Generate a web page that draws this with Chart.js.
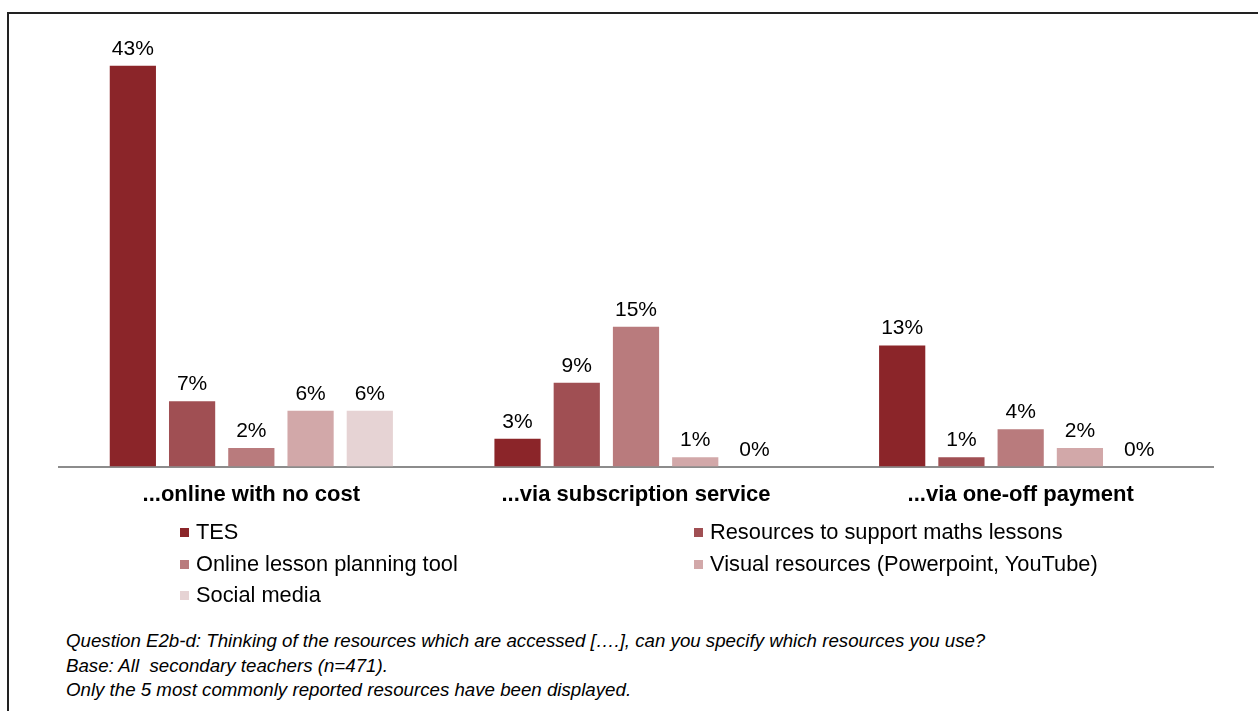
<!DOCTYPE html>
<html>
<head>
<meta charset="utf-8">
<script src="https://cdn.jsdelivr.net/npm/chart.js@4"></script>
<style>
  body { margin: 0; background: #fff; font-family: "Liberation Sans", Arial, sans-serif; }
  #frame { position: absolute; left: 7px; top: 12px; width: 1260px; height: 720px;
           border-left: 2px solid #222; border-top: 2px solid #222; }
  #chartBox { position: absolute; left: 0; top: 0; width: 1258px; height: 535px; }
  #legend { position: absolute; left: 0; top: 0; }
  .legend-item { position: absolute; font-size: 21.8px; color: #000; white-space: nowrap; line-height: 24px; }
  .legend-item span.box { display: inline-block; width: 9px; height: 9px; margin-right: 7px; vertical-align: 2px; }
  #notes { position: absolute; left: 66px; top: 629px; font-style: italic; font-size: 18.7px; line-height: 24.5px; color: #000; }
</style>
</head>
<body>
<div id="frame"></div>
<div id="chartBox"><canvas id="resourceChart" width="1258" height="535"></canvas></div>
<div id="legend"></div>
<div id="notes">
  Question E2b-d: Thinking of the resources which are accessed [….], can you specify which resources you use?<br>
  Base: All&nbsp; secondary teachers (n=471).<br>
  Only the 5 most commonly reported resources have been displayed.
</div>

<script>
// Access routes (x categories)
const categories = ['...online with no cost', '...via subscription service', '...via one-off payment'];

// Resource types, percentage of teachers per access route
const seriesNames = [
  'TES',
  'Resources to support maths lessons',
  'Online lesson planning tool',
  'Visual resources (Powerpoint, YouTube)',
  'Social media'
];
const tesValues = [43, 3, 13];
const mathsValues = [7, 9, 1];
const planningValues = [2, 15, 4];
const visualValues = [6, 1, 2];
const socialValues = [6, 0, 0];

const seriesColors = ['#8b2529', '#a04f53', '#b97b7d', '#d2a8a9', '#e6d3d4'];
const seriesValues = [tesValues, mathsValues, planningValues, visualValues, socialValues];

// Draw the percentage above each bar
const valueLabels = {
  id: 'valueLabels',
  afterDatasetsDraw(chart) {
    const ctx = chart.ctx;
    ctx.save();
    ctx.font = '21px "Liberation Sans", Arial, sans-serif';
    ctx.fillStyle = '#000';
    ctx.textAlign = 'center';
    ctx.textBaseline = 'alphabetic';
    chart.data.datasets.forEach((ds, i) => {
      chart.getDatasetMeta(i).data.forEach((bar, j) => {
        ctx.fillText(ds.data[j] + '%', bar.x, bar.y - 11);
      });
    });
    ctx.restore();
  }
};

const chart = new Chart(document.getElementById('resourceChart'), {
  type: 'bar',
  data: {
    labels: categories,
    datasets: seriesNames.map((name, i) => ({
      label: name,
      data: seriesValues[i],
      backgroundColor: seriesColors[i],
      borderWidth: 0,
      categoryPercentage: 0.77,
      barPercentage: 0.78
    }))
  },
  options: {
    responsive: false,
    animation: false,
    layout: { padding: { left: 59, right: 45, top: 47, bottom: 12 } },
    plugins: {
      legend: { display: false },
      tooltip: { enabled: false }
    },
    scales: {
      y: { display: false, min: 0, max: 45 },
      x: {
        grid: { display: false, drawTicks: false },
        border: { display: true, color: '#8c8c8c', width: 2 },
        ticks: {
          color: '#000',
          padding: 15,
          font: { family: '"Liberation Sans", Arial, sans-serif', size: 22, weight: 'bold' }
        }
      }
    }
  },
  plugins: [valueLabels]
});

// Two-column legend built from the chart datasets
const legendEl = document.getElementById('legend');
const colLeft = [180, 694];
const rowTop = [520, 552, 583];
chart.data.datasets.forEach((ds, i) => {
  const item = document.createElement('div');
  item.className = 'legend-item';
  item.style.left = colLeft[i % 2] + 'px';
  item.style.top = rowTop[Math.floor(i / 2)] + 'px';
  item.innerHTML = '<span class="box" style="background:' + ds.backgroundColor + '"></span>' + ds.label;
  legendEl.appendChild(item);
});
</script>
</body>
</html>
